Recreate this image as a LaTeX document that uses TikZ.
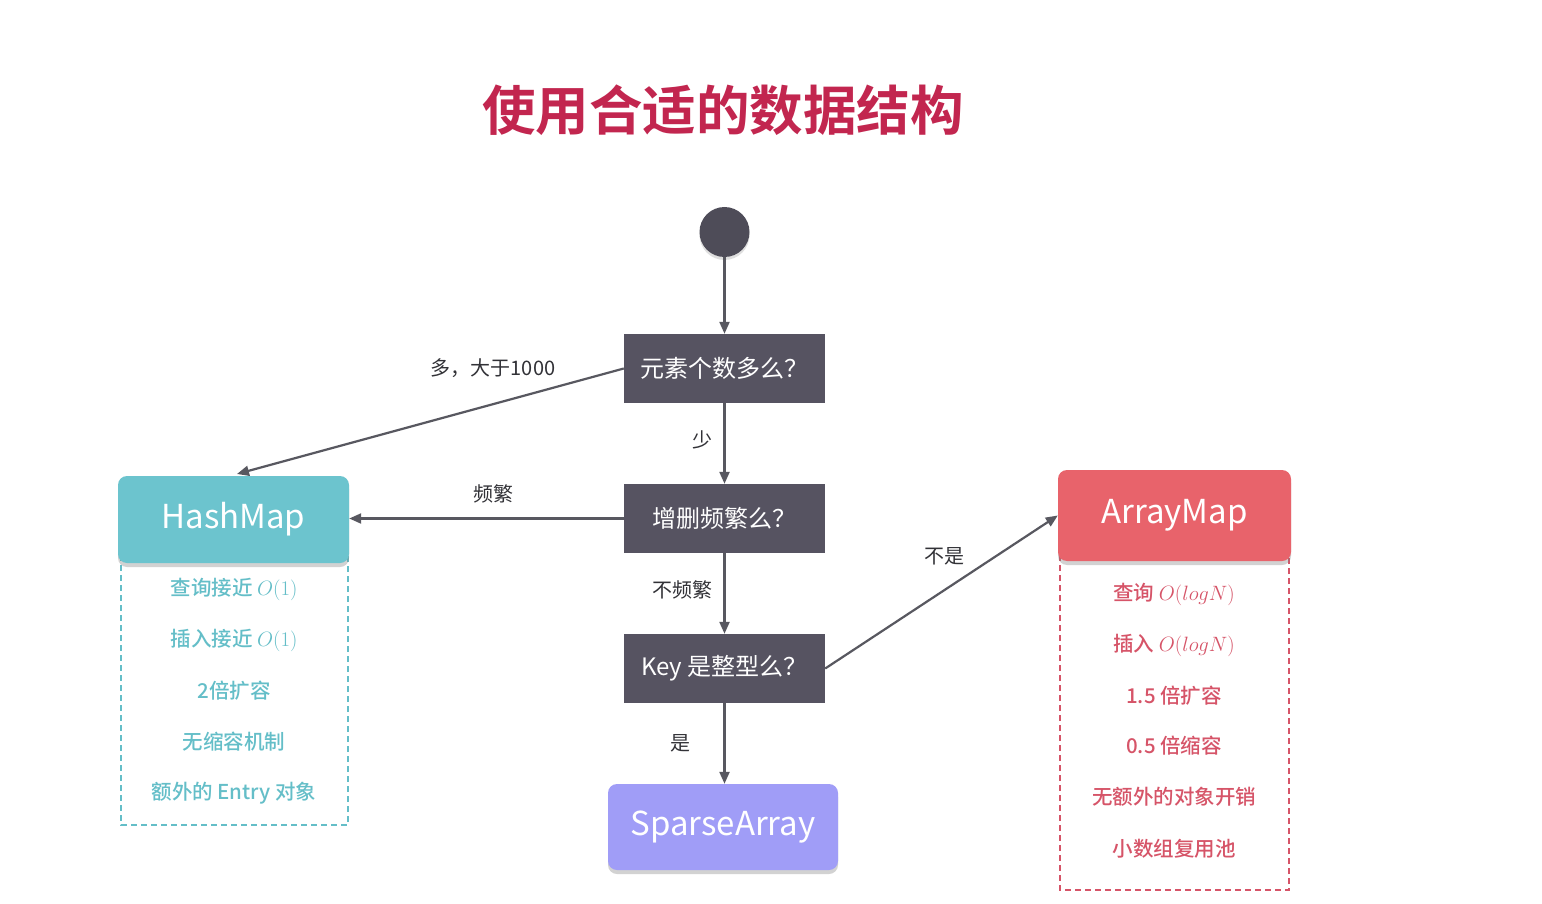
\documentclass[tikz,border=0pt]{standalone}
\usepackage{fontspec}
\setmainfont{Noto Sans CJK SC}
\newfontfamily\titlefont{Noto Sans CJK SC Bold}
\newfontfamily\medfont{Noto Sans CJK SC Medium}
\usetikzlibrary{arrows.meta,shadows,positioning}
\definecolor{boxdark}{RGB}{86,83,97}
\definecolor{circdark}{RGB}{78,76,88}
\definecolor{tealbox}{RGB}{108,196,206}
\definecolor{tealtext}{RGB}{100,190,200}
\definecolor{redbox}{RGB}{232,99,107}
\definecolor{redtext}{RGB}{214,84,104}
\definecolor{lavbox}{RGB}{160,157,247}
\definecolor{titlered}{RGB}{194,38,79}
\definecolor{arrowgray}{RGB}{88,88,96}
\definecolor{labelgray}{RGB}{50,50,55}
\tikzset{
  decision/.style={rectangle, fill=boxdark, text=white, minimum width=201pt, minimum height=69pt, inner sep=0pt, font=\fontsize{24}{26}\selectfont},
  mapbox/.style={rectangle, rounded corners=9pt, text=white, inner sep=0pt, font=\fontsize{33}{36}\selectfont, drop shadow={opacity=0.35, shadow xshift=0pt, shadow yshift=-4pt}},
  flow/.style={draw=arrowgray, line width=2.2pt, -{Triangle[length=12pt,width=10pt]}},
  elabel/.style={text=labelgray, font=\fontsize{20}{22}\selectfont},
  tealitem/.style={text=tealtext, font=\medfont\fontsize{20.5}{22}\selectfont},
  reditem/.style={text=redtext, font=\medfont\fontsize{20.5}{22}\selectfont},
  tealdash/.style={draw=tealtext, line width=1.5pt, dash pattern=on 6pt off 4pt},
  reddash/.style={draw=redtext, line width=1.5pt, dash pattern=on 6pt off 4pt},
}
\begin{document}
\begin{tikzpicture}[x=1pt,y=-1pt]
\useasboundingbox[fill=white] (0,0) rectangle (1542,904);
% title
\node[text=titlered, font=\titlefont\fontsize{53.5}{58}\selectfont] (title) at (723,110) {使用合适的数据结构};
% start
\node[circle, fill=circdark, minimum size=50pt, inner sep=0pt, drop shadow={opacity=0.25, shadow xshift=0pt, shadow yshift=-3pt}] (start) at (724.5,232) {};
% decisions
\node[decision] (d1) at (724.5,368.5) {元素个数多么？};
\node[decision] (d2) at (724.5,518.5) {增删频繁么？};
\node[decision] (d3) at (724.5,668.5) {Key 是整型么？};
% dashed detail boxes
\draw[tealdash] (121,555) rectangle (348,825);
\draw[reddash] (1060,555) rectangle (1289,890);
% map boxes
\node[mapbox, fill=tealbox, minimum width=231pt, minimum height=87pt] (hm) at (233.5,519.5) {HashMap};
\node[mapbox, fill=redbox, minimum width=233pt, minimum height=91pt] (am) at (1174.5,515.5) {ArrayMap};
\node[mapbox, fill=lavbox, minimum width=230pt, minimum height=86pt] (sa) at (723,827) {SparseArray};
% HashMap items
\node[tealitem] (h1) at (234,589) {查询接近 $O(1)$};
\node[tealitem] (h2) at (234,640) {插入接近 $O(1)$};
\node[tealitem] (h3) at (234,691) {2倍扩容};
\node[tealitem] (h4) at (234,742) {无缩容机制};
\node[tealitem] (h5) at (234,793) {额外的 Entry 对象};
% ArrayMap items
\node[reditem] (a1) at (1174,594) {查询 $O(logN)$};
\node[reditem] (a2) at (1174,645) {插入 $O(logN)$};
\node[reditem] (a3) at (1174,696) {1.5 倍扩容};
\node[reditem] (a4) at (1174,746) {0.5 倍缩容};
\node[reditem] (a5) at (1174,797) {无额外的对象开销};
\node[reditem] (a6) at (1174,849) {小数组复用池};
% connectors
\draw[flow] (start) -- (d1);
\draw[flow] (d1) -- node[elabel, left=8pt, pos=0.45] {少} (d2);
\draw[flow] (d2) -- node[elabel, left=8pt, pos=0.45] {不频繁} (d3);
\draw[flow] (d3.south) -- node[elabel, left=30pt, pos=0.5] {是} (d3.south |- sa.north);
\coordinate (hmtop) at (237,474);
\draw[flow] (d1.west) -- (hmtop);
\node[elabel] (l1) at (493,368) {多，大于1000};
\draw[flow] (d2.west) -- (d2.west -| hm.east);
\node[elabel] (l2) at (493,494) {频繁};
\draw[flow] (d3.east) -- (am.west);
\node[elabel] (l3) at (944,556) {不是};
\end{tikzpicture}
\end{document}
